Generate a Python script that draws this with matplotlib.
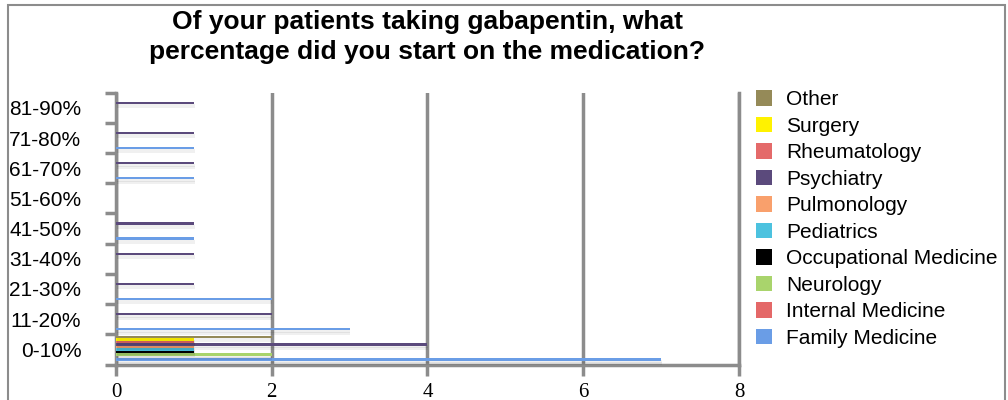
import numpy as np
import matplotlib
matplotlib.use("Agg")
import matplotlib.pyplot as plt
import matplotlib.patheffects as pe
from matplotlib.patches import Rectangle, Patch

# ============================================================
# Data
# ============================================================

categories = ["0-10%", "11-20%", "21-30%", "31-40%", "41-50%",
              "51-60%", "61-70%", "71-80%", "81-90%"]

# plotted bottom -> top inside each group
specialties = ["Family Medicine", "Internal Medicine", "Neurology",
               "Occupational Medicine", "Pediatrics", "Pulmonology",
               "Psychiatry", "Rheumatology", "Surgery", "Other"]

family_medicine = [7, 3, 2, 0, 1, 0, 1, 1, 0]
internal_medicine = [0, 0, 0, 0, 0, 0, 0, 0, 0]
neurology = [2, 0, 0, 0, 0, 0, 0, 0, 0]
occupational_medicine = [1, 0, 0, 0, 0, 0, 0, 0, 0]
pediatrics = [1, 0, 0, 0, 0, 0, 0, 0, 0]
pulmonology = [1, 0, 0, 0, 0, 0, 0, 0, 0]
psychiatry = [4, 2, 1, 1, 1, 0, 1, 1, 1]
rheumatology = [1, 0, 0, 0, 0, 0, 0, 0, 0]
surgery = [1, 0, 0, 0, 0, 0, 0, 0, 0]
other = [2, 0, 0, 0, 0, 0, 0, 0, 0]

series = [family_medicine, internal_medicine, neurology, occupational_medicine,
          pediatrics, pulmonology, psychiatry, rheumatology, surgery, other]

colors = ["#6a9de6", "#e46868", "#a9d46c", "#000000", "#4cc2df",
          "#f9a06c", "#5b4a7c", "#e46a6a", "#fff200", "#958a58"]

x_ticks = [0, 2, 4, 6, 8]

title_lines = ["Of your patients taking gabapentin, what",
               "percentage did you start on the medication?"]

# ============================================================
# Plot
# ============================================================

plt.rcParams["font.family"] = ["Liberation Sans", "DejaVu Sans"]
grey = "#8c8c8c"

fig = plt.figure(figsize=(10.08, 4.0), dpi=100)
ax = fig.add_axes([0.1151, 0.08875, 0.618, 0.6795])

y = np.arange(len(categories))
step = 0.083
bar_h = 0.08
shadow = [pe.SimplePatchShadow(offset=(0.5, -3), shadow_rgbFace="black", alpha=0.06),
          pe.SimplePatchShadow(offset=(0.5, -1.5), shadow_rgbFace="black", alpha=0.06),
          pe.Normal()]

for j, (name, vals, c) in enumerate(zip(specialties, series, colors)):
    off = (j - 4.5) * step + 0.04
    bars = ax.barh(y + off, vals, height=bar_h, color=c, zorder=3, label=name)
    for b in bars:
        b.set_path_effects(shadow)

ax.set_xlim(0, 8)
ax.set_ylim(-0.5, len(categories) - 0.5)

ax.set_xticks(x_ticks)
ax.set_xticklabels([str(t) for t in x_ticks], family="Liberation Serif", fontsize=15)
ax.tick_params(axis="x", direction="out", length=8, width=2.5, color=grey, pad=5)
ax.grid(axis="x", color=grey, linewidth=2.5, zorder=1)

ax.set_yticks(np.arange(len(categories) + 1) - 0.5)
ax.set_yticklabels([])
ax.set_yticks(y, minor=True)
ax.set_yticklabels(categories, minor=True, fontsize=15)
ax.tick_params(axis="y", which="major", direction="out", length=8, width=2.5, color=grey)
ax.tick_params(axis="y", which="minor", length=0, pad=25)

ax.spines["top"].set_visible(False)
for s in ["left", "bottom", "right"]:
    ax.spines[s].set_color(grey)
    ax.spines[s].set_linewidth(2.5)

for line, ty in zip(title_lines, [0.945, 0.87]):
    fig.text(0.424, ty, line, ha="center", va="center", fontsize=19, fontweight="bold")

handles = [Patch(facecolor=c, edgecolor="none", label=n) for n, c in zip(specialties, colors)]
fig.legend(handles[::-1], specialties[::-1], loc="upper left",
           bbox_to_anchor=(0.750, 0.775), frameon=False, fontsize=15,
           handlelength=0.77, handleheight=0.77, handletextpad=0.67,
           labelspacing=0.36, borderaxespad=0, borderpad=0)

fig.patches.append(Rectangle((0.0079, -0.02), 0.989, 1.0075, transform=fig.transFigure,
                             fill=False, edgecolor=grey, linewidth=1.5))

fig.savefig("out.png", dpi=100)
